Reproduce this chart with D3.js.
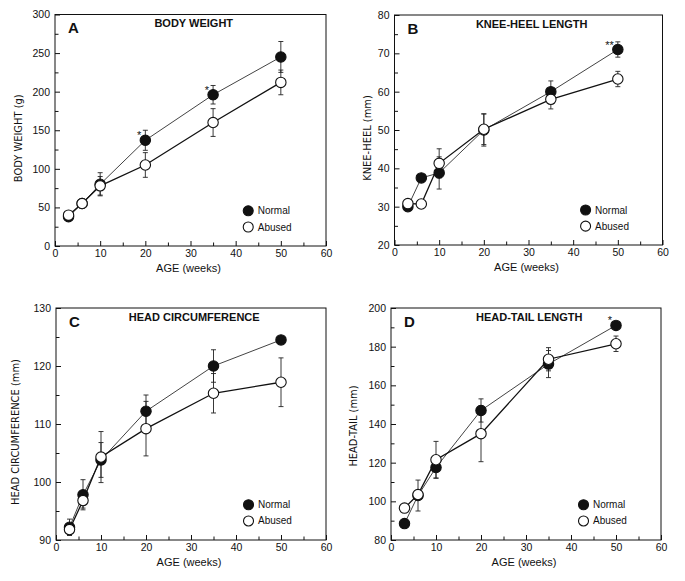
<!DOCTYPE html>
<html>
<head>
<meta charset="utf-8">
<script src="https://cdn.jsdelivr.net/npm/d3@7"></script>
<style>
  body { margin: 0; background: #fff; }
  svg text { fill: #111; }
</style>
</head>
<body>
<div id="chart"></div>
<script>
// ages sampled (weeks)
const ages = [3, 6, 10, 20, 35, 50];

// A - body weight (g)
const weightNormal = [38, 55, 80, 137, 196, 245];
const weightNormalErr = [3, 3, 15, 13, 12, 20];
const weightAbused = [40, 55, 78, 105, 160, 212];
const weightAbusedErr = [3, 3, 12, 16, 18, 16];

// B - knee-heel (mm)
const kneeNormal = [30, 37.5, 38.8, 50, 60, 71];
const kneeNormalErr = [0.6, 0.6, 4.2, 4.2, 2.8, 2];
const kneeAbused = [30.8, 30.7, 41.3, 50.2, 58, 63.3];
const kneeAbusedErr = [0.6, 0.6, 3.8, 4, 2.5, 2];

// C - head circumference (mm)
const headNormal = [92.2, 97.8, 103.8, 112.2, 120, 124.5];
const headNormalErr = [1.4, 2.6, 3, 2.8, 2.8, 0.5];
const headAbused = [91.8, 96.8, 104.3, 109.2, 115.3, 117.2];
const headAbusedErr = [1, 1.3, 4.4, 4.7, 3.4, 4.2];

// D - head-tail (mm)
const tailNormal = [88.5, 103, 117.5, 147, 171, 191];
const tailNormalErr = [1, 8, 5.5, 6, 7, 1];
const tailAbused = [96.5, 103.5, 121.5, 135, 173.5, 181.5];
const tailAbusedErr = [1, 1.5, 9.5, 14.5, 6, 4];

// significance marks (index into ages)
const weightStars = [[3, "*"], [4, "*"]];
const kneeStars = [[5, "**"]];
const headStars = [];
const tailStars = [[5, "*"]];

const panels = [
  { letter: "A", title: "BODY WEIGHT", ylabel: "BODY WEIGHT (g)", left: 55, top: 14.5, w: 271, h: 231.5,
    yDomain: [0, 300], yMajor: d3.range(0, 301, 50), yMinor: d3.range(25, 300, 50), ylabOff: 33, ylabShift: 8,
    normal: weightNormal, normalErr: weightNormalErr, abused: weightAbused, abusedErr: weightAbusedErr, stars: weightStars },
  { letter: "B", title: "KNEE-HEEL LENGTH", ylabel: "KNEE-HEEL (mm)", left: 394.5, top: 15, w: 268, h: 230,
    yDomain: [20, 80], yMajor: d3.range(20, 81, 10), yMinor: d3.range(25, 80, 10), ylabOff: 23.5, ylabShift: 8,
    normal: kneeNormal, normalErr: kneeNormalErr, abused: kneeAbused, abusedErr: kneeAbusedErr, stars: kneeStars },
  { letter: "C", title: "HEAD CIRCUMFERENCE", ylabel: "HEAD CIRCUMFERENCE (mm)", left: 56, top: 308, w: 270, h: 232,
    yDomain: [90, 130], yMajor: d3.range(90, 131, 10), yMinor: d3.range(95, 130, 10), ylabOff: 37, ylabShift: 8,
    normal: headNormal, normalErr: headNormalErr, abused: headAbused, abusedErr: headAbusedErr, stars: headStars },
  { letter: "D", title: "HEAD-TAIL LENGTH", ylabel: "HEAD-TAIL (mm)", left: 391, top: 308, w: 270, h: 232,
    yDomain: [80, 200], yMajor: d3.range(80, 201, 20), yMinor: d3.range(90, 200, 20), ylabOff: 34, ylabShift: 2,
    normal: tailNormal, normalErr: tailNormalErr, abused: tailAbused, abusedErr: tailAbusedErr, stars: tailStars }
];

const font = "'Liberation Sans', Arial, Helvetica, sans-serif";
const narrow = "'Liberation Sans Narrow', 'DejaVu Sans Condensed', Arial, sans-serif";

const svg = d3.select('#chart')
  .append('svg')
  .attr('width', 685)
  .attr('height', 581)
  .style('font-family', font);

panels.forEach(p => {
  const g = svg.append('g').attr('transform', `translate(${p.left}, ${p.top})`);

  const xScale = d3.scaleLinear().domain([0, 60]).range([0, p.w]);
  const yScale = d3.scaleLinear().domain(p.yDomain).range([p.h, 0]);

  // frame
  g.append('rect')
    .attr('width', p.w).attr('height', p.h)
    .attr('fill', 'none').attr('stroke', '#111').attr('stroke-width', 1);

  // x axis, ticks pointing inwards
  const xAxis = g.append('g').attr('transform', `translate(0, ${p.h})`)
    .call(d3.axisBottom(xScale).tickValues(d3.range(0, 61, 10)).tickSize(-5).tickSizeOuter(0).tickPadding(4));
  g.append('g').attr('transform', `translate(0, ${p.h})`)
    .call(d3.axisBottom(xScale).tickValues(d3.range(5, 60, 10)).tickSize(-3.5).tickFormat(''))
    .select('.domain').remove();
  xAxis.select('.domain').remove();
  xAxis.selectAll('text').attr('font-size', '10.5px').style('font-family', font);

  const yAxis = g.append('g')
    .call(d3.axisLeft(yScale).tickValues(p.yMajor).tickSize(-5).tickSizeOuter(0).tickPadding(5));
  g.append('g')
    .call(d3.axisLeft(yScale).tickValues(p.yMinor).tickSize(-3.5).tickFormat(''))
    .select('.domain').remove();
  yAxis.select('.domain').remove();
  yAxis.selectAll('text').attr('font-size', '10.5px').style('font-family', font);
  g.selectAll('.tick line').attr('stroke', '#111');

  // axis labels
  g.append('text')
    .attr('x', xScale(30) - 2).attr('y', p.h + 26)
    .attr('text-anchor', 'middle').attr('font-size', '11px')
    .text('AGE (weeks)');

  g.append('text')
    .attr('transform', `translate(${-p.ylabOff}, ${p.h / 2 + p.ylabShift}) rotate(-90)`)
    .attr('text-anchor', 'middle').attr('font-size', '11px')
    .style('font-family', narrow)
    .text(p.ylabel);

  // panel letter and title
  g.append('text').attr('x', 13).attr('y', 18.5)
    .attr('font-size', '15px').attr('font-weight', 'bold').text(p.letter);
  g.append('text').attr('x', p.w * 0.512).attr('y', 12.7)
    .attr('text-anchor', 'middle').attr('font-size', '11px').attr('font-weight', 'bold')
    .text(p.title);

  const series = [
    { vals: p.normal, err: p.normalErr, fill: '#111', stroke: '#444', sw: 1 },
    { vals: p.abused, err: p.abusedErr, fill: '#fff', stroke: '#111', sw: 1.3 }
  ];

  const line = d3.line().x((d, i) => xScale(ages[i])).y(d => yScale(d));

  series.forEach(s => {
    g.append('path').datum(s.vals)
      .attr('fill', 'none').attr('stroke', s.stroke).attr('stroke-width', s.sw)
      .attr('d', line);
  });

  // error bars
  series.forEach(s => {
    const eb = g.append('g').attr('stroke', '#222').attr('stroke-width', 0.9);
    s.vals.forEach((v, i) => {
      const x = xScale(ages[i]);
      const y1 = yScale(v - s.err[i]), y2 = yScale(v + s.err[i]);
      eb.append('line').attr('x1', x).attr('x2', x).attr('y1', y1).attr('y2', y2);
      eb.append('line').attr('x1', x - 2.5).attr('x2', x + 2.5).attr('y1', y1).attr('y2', y1);
      eb.append('line').attr('x1', x - 2.5).attr('x2', x + 2.5).attr('y1', y2).attr('y2', y2);
    });
  });

  // markers
  series.forEach(s => {
    g.selectAll(null).data(s.vals).enter().append('circle')
      .attr('cx', (d, i) => xScale(ages[i]))
      .attr('cy', d => yScale(d))
      .attr('r', 5.2)
      .attr('fill', s.fill).attr('stroke', '#111').attr('stroke-width', 1.1);
  });

  // significance stars
  p.stars.forEach(([i, mark]) => {
    g.append('text')
      .attr('x', xScale(ages[i]) - 4).attr('y', yScale(p.normal[i]) - 1)
      .attr('text-anchor', 'end').attr('font-size', '11px').text(mark);
  });

  // legend
  const lx = p.w * 0.713;
  [['Normal', '#111', 0.848], ['Abused', '#fff', 0.918]].forEach(([name, fill, fy]) => {
    g.append('circle').attr('cx', lx).attr('cy', p.h * fy).attr('r', 5)
      .attr('fill', fill).attr('stroke', '#111').attr('stroke-width', 1.1);
    g.append('text').attr('x', lx + 9.5).attr('y', p.h * fy + 3.5)
      .attr('font-size', '10px').text(name);
  });
});
</script>
</body>
</html>
